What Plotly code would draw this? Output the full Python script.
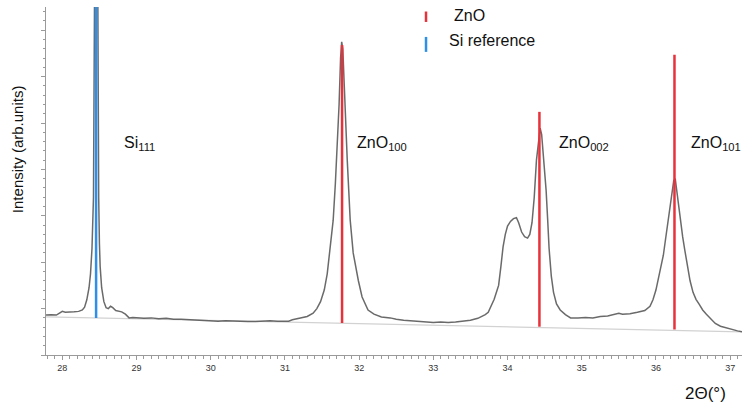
import plotly.graph_objects as go

# Measured XRD pattern (2-theta in degrees, intensity in arbitrary units)
two_theta = [
    27.78, 27.85, 27.92, 27.97, 28.00, 28.04, 28.10, 28.16, 28.22, 28.27,
    28.30, 28.33, 28.36, 28.38, 28.40, 28.42, 28.43, 28.435, 28.455, 28.475,
    28.48, 28.49, 28.50, 28.51, 28.53, 28.56, 28.59, 28.62, 28.65, 28.68,
    28.72, 28.76, 28.80, 28.85, 28.90, 28.95, 29.00, 29.10, 29.20, 29.30,
    29.40, 29.50, 29.60, 29.70, 29.80, 29.90, 30.00, 30.10, 30.20, 30.30,
    30.40, 30.50, 30.60, 30.70, 30.80, 30.90, 31.00, 31.05, 31.10, 31.20,
    31.30, 31.38, 31.43, 31.48, 31.53, 31.57, 31.61, 31.65, 31.68, 31.70,
    31.73, 31.75, 31.765, 31.78, 31.80, 31.82, 31.84, 31.86, 31.88, 31.92,
    31.96, 31.99, 32.04, 32.09, 32.12, 32.20, 32.30, 32.42, 32.50, 32.60,
    32.70, 32.80, 32.90, 33.00, 33.10, 33.20, 33.30, 33.40, 33.50, 33.60,
    33.65, 33.70, 33.74, 33.78, 33.82, 33.86, 33.88, 33.91, 33.94, 33.97,
    34.00, 34.04, 34.08, 34.12, 34.15, 34.19, 34.23, 34.27, 34.30, 34.33,
    34.36, 34.39, 34.42, 34.44, 34.46, 34.48, 34.50, 34.52, 34.54, 34.56,
    34.59, 34.62, 34.66, 34.71, 34.78, 34.85, 34.95, 35.05, 35.15, 35.25,
    35.35, 35.45, 35.50, 35.55, 35.65, 35.75, 35.85, 35.92, 35.96, 36.00,
    36.04, 36.07, 36.10, 36.13, 36.16, 36.19, 36.22, 36.24, 36.26, 36.28,
    36.30, 36.33, 36.36, 36.39, 36.42, 36.46, 36.50, 36.54, 36.58, 36.63,
    36.68, 36.73, 36.80, 36.87, 36.93, 37.00, 37.05, 37.10, 37.16,
]
intensity = [
    0.86, 0.87, 0.86, 0.90, 0.94, 0.92, 0.92, 0.93, 0.94, 0.97,
    1.03, 1.19, 1.45, 1.75, 2.30, 3.40, 6.50, 9.00, 14.0, 9.00,
    6.50, 3.40, 2.40, 1.90, 1.45, 1.15, 1.02, 1.00, 1.05, 1.02,
    0.96, 0.94, 0.93, 0.88, 0.80, 0.81, 0.80, 0.79, 0.80, 0.78,
    0.79, 0.77, 0.77, 0.76, 0.76, 0.74, 0.74, 0.73, 0.74, 0.73,
    0.72, 0.72, 0.72, 0.73, 0.74, 0.73, 0.74, 0.73, 0.76, 0.80,
    0.83, 0.90, 1.00, 1.15, 1.40, 1.75, 2.30, 2.90, 3.70, 4.35,
    5.40, 6.40, 6.75, 6.60, 5.70, 4.90, 4.20, 3.55, 2.90, 2.20,
    1.80, 1.60, 1.25, 1.05, 0.97, 0.88, 0.82, 0.80, 0.77, 0.75,
    0.74, 0.72, 0.72, 0.70, 0.71, 0.70, 0.71, 0.73, 0.75, 0.79,
    0.83, 0.87, 0.92, 1.05, 1.20, 1.40, 1.50, 1.90, 2.33, 2.60,
    2.78, 2.88, 2.94, 2.96, 2.85, 2.65, 2.55, 2.52, 2.60, 2.85,
    3.40, 4.20, 4.72, 4.89, 4.75, 4.40, 4.00, 3.55, 2.95, 2.30,
    1.70, 1.35, 1.10, 0.97, 0.87, 0.80, 0.80, 0.81, 0.80, 0.83,
    0.84, 0.87, 0.90, 0.88, 0.89, 0.92, 0.96, 1.05, 1.19, 1.40,
    1.70, 1.95, 2.15, 2.50, 2.85, 3.10, 3.50, 3.76, 3.80, 3.55,
    3.25, 2.95, 2.55, 2.25, 1.95, 1.60, 1.35, 1.20, 1.10, 0.97,
    0.88, 0.80, 0.68, 0.62, 0.59, 0.56, 0.54, 0.52, 0.50,
]

# Sloped background line
background_x = [27.78, 37.16]
background_y = [0.82, 0.50]

# Reference reflections (stick patterns)
zno_pos = [31.77, 34.43, 36.25]
zno_top = [6.68, 5.24, 6.47]
zno_bottom = [0.69, 0.61, 0.55]

si_pos = [28.455]
si_top = [8.0]
si_bottom = [0.80]

# Peak labels: (position, main text, Miller index)
peak_label_x = [28.80, 31.95, 34.67, 36.45]
peak_label_main = ["Si", "ZnO", "ZnO", "ZnO"]
peak_label_hkl = ["111", "100", "002", "101"]

x_range = [27.78, 37.16]
y_range = [0, 7.5]

FONT = "Liberation Sans, Arial, Helvetica, sans-serif"
RED = "#e8323b"
BLUE = "#2e8fe8"
AXIS = "#9a9a9a"


def sticks(pos, bottom, top):
    xs, ys = [], []
    for p, b, t in zip(pos, bottom, top):
        xs += [p, p, None]
        ys += [b, t, None]
    return xs, ys


fig = go.Figure()

fig.add_trace(go.Scatter(
    x=background_x, y=background_y, mode="lines",
    line=dict(color="#d2d2d2", width=1.2), hoverinfo="skip", showlegend=False,
))

fig.add_trace(go.Scatter(
    x=two_theta, y=intensity, mode="lines",
    line=dict(color="rgba(90,90,90,0.9)", width=1.5), showlegend=False,
))

sx, sy = sticks(zno_pos, zno_bottom, zno_top)
fig.add_trace(go.Scatter(
    x=sx, y=sy, mode="lines", line=dict(color=RED, width=2.5), showlegend=False,
))
sx, sy = sticks(si_pos, si_bottom, si_top)
fig.add_trace(go.Scatter(
    x=sx, y=sy, mode="lines", line=dict(color=BLUE, width=2.5), showlegend=False,
))

annotations = []
for px, main, hkl in zip(peak_label_x, peak_label_main, peak_label_hkl):
    annotations.append(dict(
        x=px, y=4.55, xref="x", yref="y", xanchor="left", yanchor="middle",
        text=f"{main}<sub>{hkl}</sub>", showarrow=False,
        font=dict(family=FONT, size=16, color="#111111"),
    ))

# Legend entries
annotations += [
    dict(x=0.583, y=0.977, xref="paper", yref="paper", xanchor="left", yanchor="middle",
         text="ZnO", showarrow=False, font=dict(family=FONT, size=16, color="#111111")),
    dict(x=0.576, y=0.903, xref="paper", yref="paper", xanchor="left", yanchor="middle",
         text="Si reference", showarrow=False, font=dict(family=FONT, size=16, color="#111111")),
    # Axis titles
    dict(x=-0.040, y=0.592, xref="paper", yref="paper", xanchor="center", yanchor="middle",
         text="Intensity (arb.units)", textangle=-90, showarrow=False,
         font=dict(family=FONT, size=15, color="#111111")),
    dict(x=0.947, y=-0.112, xref="paper", yref="paper", xanchor="center", yanchor="middle",
         text="2Θ(°)", showarrow=False, font=dict(family=FONT, size=17, color="#111111")),
]

shapes = [
    dict(type="line", xref="paper", yref="paper", x0=0.546, x1=0.546, y0=0.957, y1=0.987,
         line=dict(color=RED, width=2.5)),
    dict(type="line", xref="paper", yref="paper", x0=0.546, x1=0.546, y0=0.871, y1=0.914,
         line=dict(color=BLUE, width=2.5)),
]

fig.update_layout(
    width=742, height=408,
    margin=dict(l=46, r=0, t=7, b=53),
    paper_bgcolor="white", plot_bgcolor="white",
    font=dict(family=FONT, color="#333333"),
    annotations=annotations, shapes=shapes,
    showlegend=False,
)

fig.update_xaxes(
    range=x_range, showgrid=False, zeroline=False,
    showline=True, linecolor=AXIS, linewidth=1,
    ticks="outside", ticklen=4, tickcolor=AXIS, tickwidth=1,
    tick0=0, dtick=1, tickfont=dict(family=FONT, size=9, color="#333333"),
    minor=dict(ticks="outside", dtick=0.1, ticklen=3, tickcolor=AXIS, showgrid=False),
)
fig.update_yaxes(
    range=y_range, showgrid=False, zeroline=False,
    showline=True, linecolor=AXIS, linewidth=1,
    ticks="outside", ticklen=4, tickcolor=AXIS, tickwidth=1,
    tick0=0, dtick=1, showticklabels=False,
    minor=dict(ticks="outside", dtick=0.2, ticklen=2, tickcolor=AXIS, showgrid=False),
)

fig.write_html("out.html")
